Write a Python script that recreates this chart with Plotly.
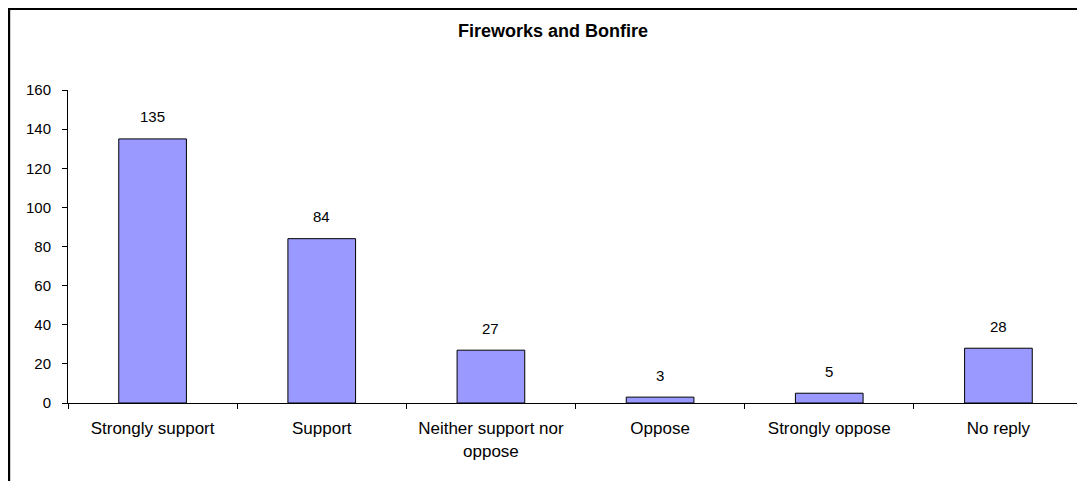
import plotly.graph_objects as go

categories = ["Strongly support", "Support", "Neither support nor<br>oppose", "Oppose", "Strongly oppose", "No reply"]
values = [135, 84, 27, 3, 5, 28]
y_ticks = [0, 20, 40, 60, 80, 100, 120, 140, 160]
title_text = "Fireworks and Bonfire"

FONT = "Liberation Sans, Arial, sans-serif"

# plot area in figure pixels
L, R, T, B = 60, 1075, 82, 395
W, H = 1085, 481

fig = go.Figure()
fig.add_trace(go.Bar(
    x=categories, y=values, width=0.4,
    marker=dict(color="#9999FF", line=dict(color="#000000", width=1)),
    hoverinfo="x+y",
))

for c, v in zip(categories, values):
    fig.add_annotation(x=c, y=v, text=str(v), showarrow=False, yshift=22,
                       yanchor="middle", font=dict(family=FONT, size=15, color="#000"))

pw, ph = R - L, B - T
fig.add_shape(type="rect", xref="paper", yref="paper",
              x0=(0.7 - L) / pw, x1=(W + 20 - L) / pw,
              y0=(B - (H + 20)) / ph, y1=(B - 0.5) / ph,
              line=dict(color="#000", width=3), fillcolor="rgba(0,0,0,0)", layer="above")

fig.update_layout(
    width=W, height=H,
    margin=dict(l=L, r=W - R, t=T, b=H - B, autoexpand=False),
    paper_bgcolor="white", plot_bgcolor="white",
    showlegend=False,
    title=dict(text="<b>" + title_text + "</b>", x=545 / W, xanchor="center",
               y=1 - 23 / H, yanchor="middle", font=dict(family=FONT, size=18, color="#000")),
    font=dict(family=FONT, size=15, color="#000"),
)
fig.update_xaxes(
    type="category", showline=True, linecolor="#000", linewidth=1,
    ticks="outside", tickson="boundaries", ticklen=5, tickcolor="#000",
    showgrid=False, tickfont=dict(family=FONT, size=17, color="#000"),
    ticklabelstandoff=10,
)
fig.update_yaxes(
    range=[0, 160], tickvals=y_ticks, showline=True, linecolor="#000", linewidth=1,
    ticks="outside", ticklen=5, tickcolor="#000", showgrid=False, zeroline=False,
    tickfont=dict(family=FONT, size=15, color="#000"), ticklabelstandoff=8,
)

fig.write_html("out.html")
